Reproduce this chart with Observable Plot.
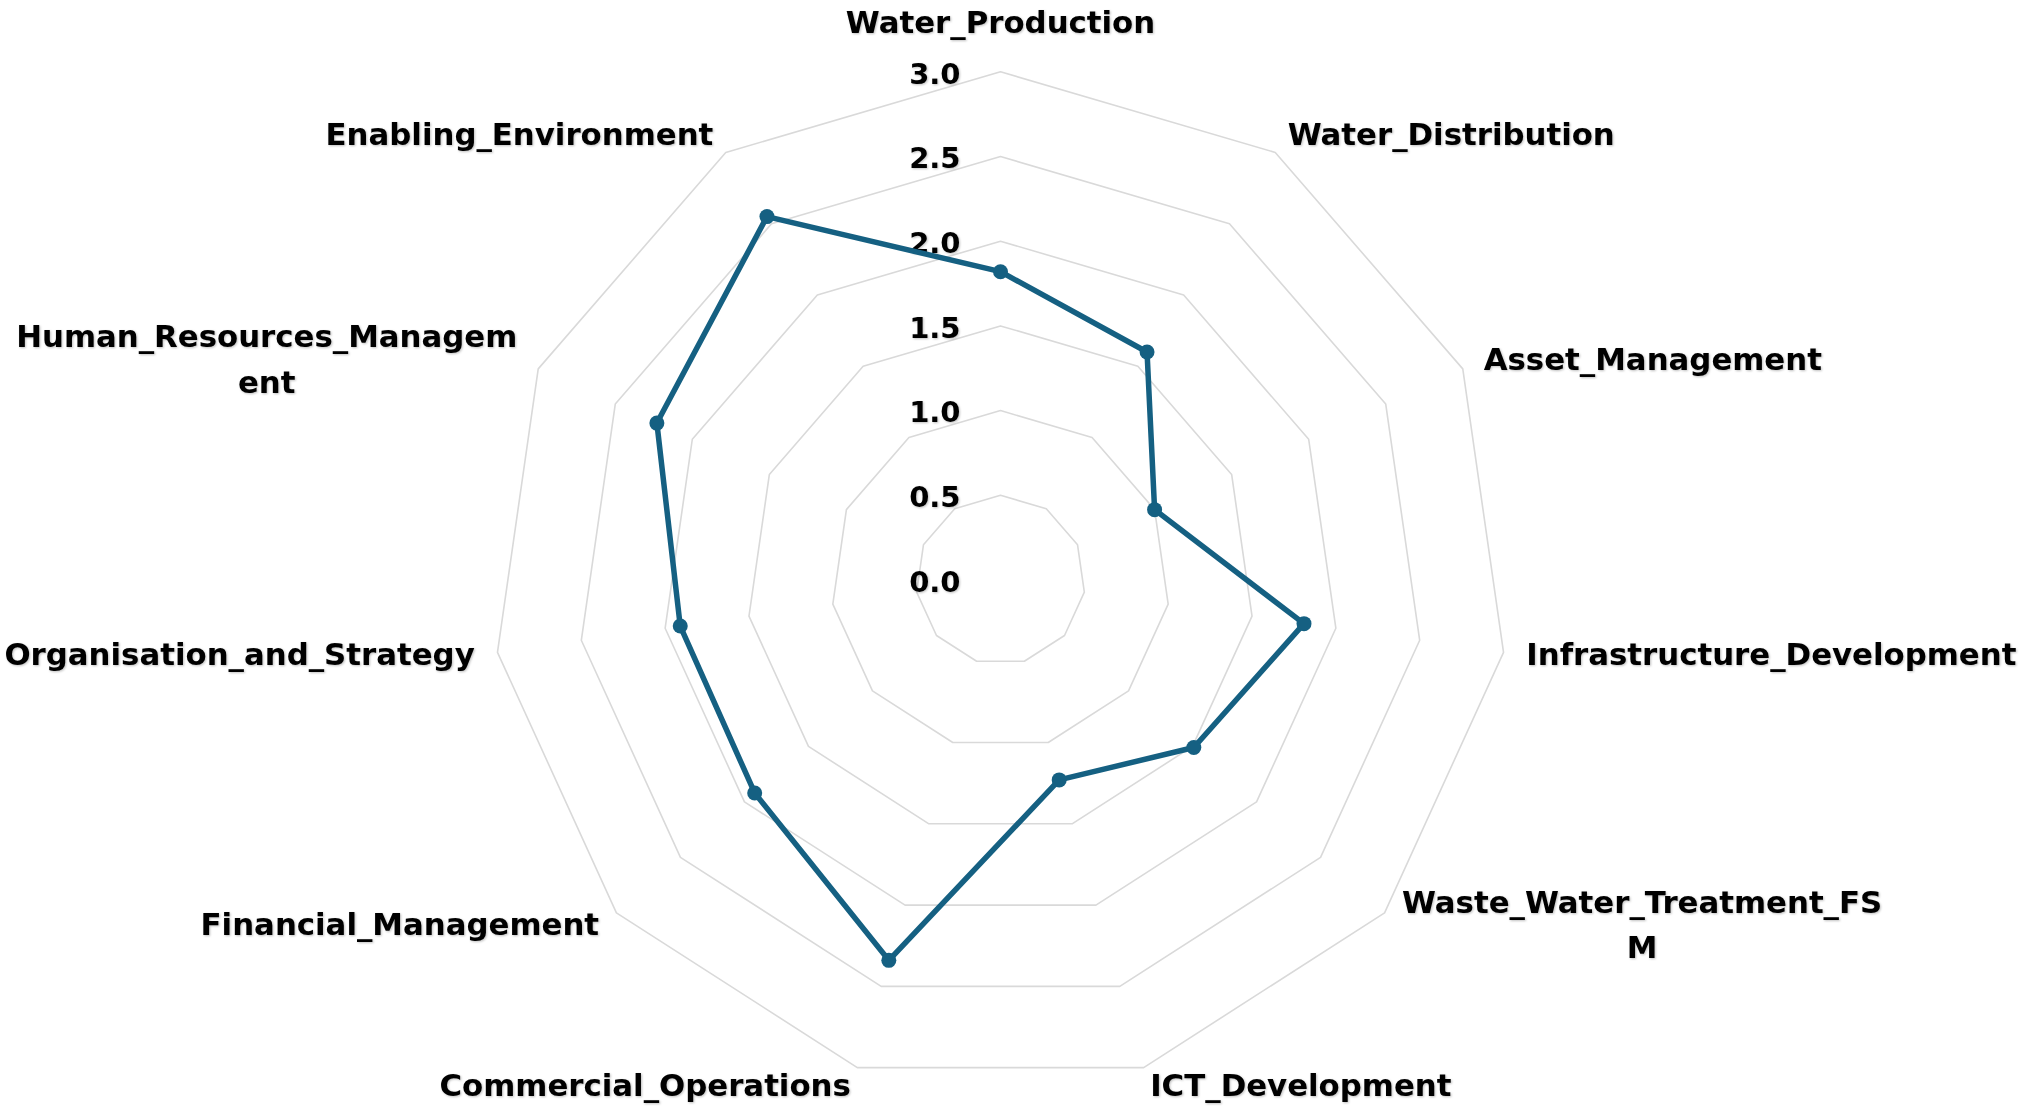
<!DOCTYPE html>
<html>
<head>
<meta charset="utf-8">
<script src="https://cdn.jsdelivr.net/npm/d3@7"></script>
<script src="https://cdn.jsdelivr.net/npm/@observablehq/plot@0.6"></script>
<style>
  html, body { margin: 0; padding: 0; background: #ffffff; }
  #chart svg text { filter: drop-shadow(1px 1px 1px rgba(0,0,0,0.25)); }
</style>
</head>
<body>
<div id="chart"></div>
<script>
const categories = ["Water_Production","Water_Distribution","Asset_Management","Infrastructure_Development","Waste_Water_Treatment_FSM","ICT_Development","Commercial_Operations","Financial_Management","Organisation_and_Strategy","Human_Resources_Management","Enabling_Environment"];
const axisLabels = ["Water_Production","Water_Distribution","Asset_Management","Infrastructure_Development","Waste_Water_Treatment_FS\nM","ICT_Development","Commercial_Operations","Financial_Management","Organisation_and_Strategy","Human_Resources_Managem\nent","Enabling_Environment"];
const values = [1.82, 1.60, 1.00, 1.81, 1.51, 1.23, 2.34, 1.92, 1.91, 2.23, 2.55];
const tickValues = [0, 0.5, 1.0, 1.5, 2.0, 2.5, 3.0];
const tickLabels = ["0.0", "0.5", "1.0", "1.5", "2.0", "2.5", "3.0"];

const maxValue = 3;
const n = categories.length;
const angle = i => (i * 2 * Math.PI) / n;
const FONT = "'DejaVu Sans', 'Liberation Sans', sans-serif";
const labelSize = 30.8;
const tickSize = 29;
const pxPerUnit = 169.4;
const cx = 1000, cy = 579.5, W = 2019, H = 1107;

// data polygon
const series = categories.map((c, i) => ({
  category: c, value: values[i],
  x: values[i] * Math.sin(angle(i)), y: values[i] * Math.cos(angle(i))
}));

// grid rings
const rings = [];
tickValues.filter(v => v > 0).forEach(v => {
  categories.forEach((c, i) => rings.push({level: v, x: v * Math.sin(angle(i)), y: v * Math.cos(angle(i))}));
});

// measure label widths and place labels outside the outer ring
const ctx = document.createElement("canvas").getContext("2d");
ctx.font = `700 ${labelSize}px ${FONT}`;
const labels = axisLabels.map((t, i) => {
  const a = angle(i);
  const s = Math.sin(a), co = Math.cos(a);
  const w = Math.max(...t.split("\n").map(l => ctx.measureText(l).width));
  const side = s > 0.01 ? 1 : s < -0.01 ? -1 : 0;
  const dxPx = 23 * s + side * w / 2;
  const dyPx = -20 * co - (side === 0 && co > 0 ? 28 : 0) - 5;
  return {
    text: t,
    x: maxValue * s + dxPx / pxPerUnit,
    y: maxValue * co - dyPx / pxPerUnit
  };
});

const ticks = tickValues.map((v, i) => ({value: v, label: tickLabels[i]}));

const chart = Plot.plot({
  width: W, height: H, margin: 0,
  x: {domain: [-cx / pxPerUnit, (W - cx) / pxPerUnit], axis: null},
  y: {domain: [-(H - cy) / pxPerUnit, cy / pxPerUnit], axis: null},
  style: {background: "#ffffff", fontFamily: FONT},
  marks: [
    Plot.line(rings, {x: "x", y: "y", z: "level", curve: "linear-closed", stroke: "#d9d9d9", strokeWidth: 1.6}),
    Plot.text(ticks, {x: () => 0, y: "value", text: "label", textAnchor: "end", dx: -40, dy: 2.5, fontSize: tickSize, fontWeight: 700, fill: "#000000", fontFamily: FONT}),
    Plot.line(series, {x: "x", y: "y", curve: "linear-closed", stroke: "#156082", strokeWidth: 5.5, strokeLinejoin: "round"}),
    Plot.dot(series, {x: "x", y: "y", r: 7.5, fill: "#156082", stroke: "none"}),
    Plot.text(labels, {x: "x", y: "y", text: "text", textAnchor: "middle", lineAnchor: "middle", lineHeight: 1.47, fontSize: labelSize, fontWeight: 700, fill: "#000000", fontFamily: FONT})
  ]
});
document.getElementById("chart").appendChild(chart);
</script>
</body>
</html>
